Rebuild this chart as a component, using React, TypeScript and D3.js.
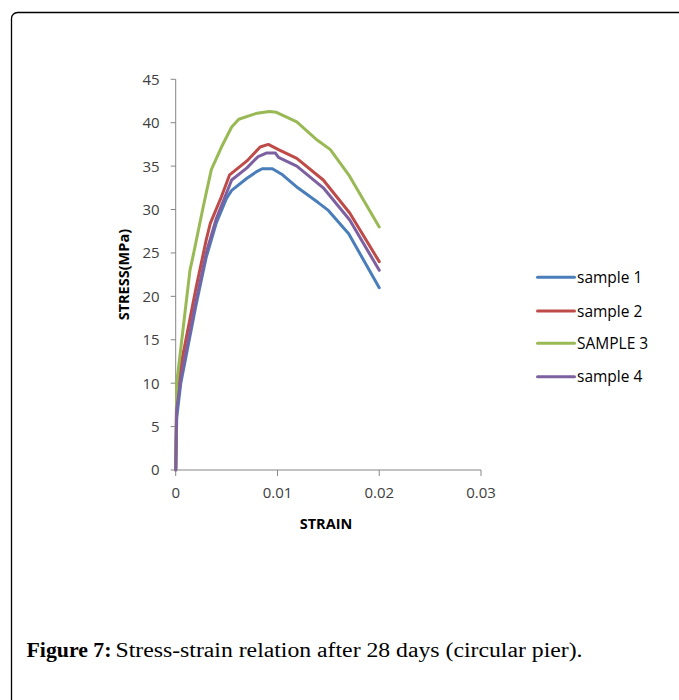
import React from "react";
import * as d3 from "d3";

const yTicks = [0, 5, 10, 15, 20, 25, 30, 35, 40, 45];
const xTicks = [0, 0.01, 0.02, 0.03];
const xTickLabels = ["0", "0.01", "0.02", "0.03"];

const seriesNames = ["sample 1", "sample 2", "SAMPLE 3", "sample 4"];
const seriesColors = ["#4A7EBB", "#BE4B48", "#98B954", "#7D60A0"];

const strain1 = [0, 0.0001, 0.0005, 0.001, 0.002, 0.003, 0.004, 0.005, 0.0055, 0.007, 0.008, 0.0085, 0.0095, 0.0105, 0.012, 0.014, 0.015, 0.017, 0.02];
const stress1 = [0, 6, 10, 13, 19, 24.5, 28.5, 31.3, 32.2, 33.6, 34.4, 34.7, 34.7, 34.0, 32.5, 30.8, 29.9, 27.2, 21];

const strain2 = [0, 0.0001, 0.0005, 0.001, 0.002, 0.003, 0.0034, 0.0045, 0.0053, 0.007, 0.0083, 0.0091, 0.0101, 0.0119, 0.0145, 0.0171, 0.02];
const stress2 = [0, 9, 12, 15, 21, 26.5, 28.4, 31.5, 34.0, 35.6, 37.2, 37.5, 36.9, 35.9, 33.4, 29.6, 24.0];

const strain3 = [0, 0.0001, 0.0006, 0.0014, 0.0017, 0.0027, 0.0035, 0.0045, 0.0055, 0.0062, 0.008, 0.0092, 0.0099, 0.0119, 0.0139, 0.0152, 0.017, 0.02];
const stress3 = [0, 10, 15, 23, 24.6, 30.3, 34.6, 37.2, 39.5, 40.4, 41.1, 41.3, 41.2, 40.1, 38.0, 36.9, 34.0, 28.0];

const strain4 = [0, 0.0001, 0.0005, 0.001, 0.002, 0.003, 0.004, 0.0055, 0.007, 0.0081, 0.0089, 0.0098, 0.0101, 0.0119, 0.0145, 0.0171, 0.02];
const stress4 = [0, 7, 10.5, 13.5, 19.5, 25, 29, 33.4, 34.8, 36.1, 36.5, 36.5, 36.0, 35.0, 32.5, 28.8, 23.0];

const strains = [strain1, strain2, strain3, strain4];
const stresses = [stress1, stress2, stress3, stress4];

export default function App() {
  React.useEffect(() => {
    document.body.style.margin = "0";
  }, []);

  const x = d3.scaleLinear().domain([0, 0.03]).range([175.7, 481]);
  const y = d3.scaleLinear().domain([0, 45]).range([470, 79.3]);
  const line = d3
    .line<[number, number]>()
    .x((d) => x(d[0]))
    .y((d) => y(d[1]));

  const tickFont = "'Open Sans', 'Liberation Sans', sans-serif";
  const axisColor = "#868686";
  const serif = "'Liberation Serif', 'DejaVu Serif', serif";

  return (
    <svg width={679} height={700} style={{ display: "block", position: "absolute", left: 0, top: 0 }}>
      <rect x={0} y={0} width={679} height={700} fill="#fff" />
      <rect x={11.5} y={12.5} width={720} height={740} rx={6} ry={6} fill="none" stroke="#000" strokeWidth={1.3} />

      {/* Y axis */}
      <line x1={x(0)} x2={x(0)} y1={y(45)} y2={y(0)} stroke={axisColor} strokeWidth={1} />
      {yTicks.map((t) => (
        <g key={"y" + t}>
          <line x1={x(0) - 5} x2={x(0)} y1={y(t)} y2={y(t)} stroke={axisColor} strokeWidth={1} />
          <text x={x(0) - 16} y={y(t)} dy="0.36em" textAnchor="end" fontSize={15} fontFamily={tickFont} fill="#404040">
            {t}
          </text>
        </g>
      ))}

      {/* X axis */}
      <line x1={x(0)} x2={x(0.03)} y1={y(0)} y2={y(0)} stroke={axisColor} strokeWidth={1} />
      {xTicks.map((t, i) => (
        <g key={"x" + t}>
          <line x1={x(t)} x2={x(t)} y1={y(0)} y2={y(0) + 6} stroke={axisColor} strokeWidth={1} />
          <text x={x(t)} y={498} textAnchor="middle" fontSize={15} fontFamily={tickFont} fill="#404040">
            {xTickLabels[i]}
          </text>
        </g>
      ))}

      {/* Axis titles */}
      <text
        transform={`translate(124,${(y(0) + y(45)) / 2}) rotate(-90)`}
        textAnchor="middle"
        dy="0.36em"
        fontSize={14.5}
        fontWeight="bold"
        fontFamily={tickFont}
        fill="#000"
      >
        STRESS(MPa)
      </text>
      <text x={326} y={529} textAnchor="middle" fontSize={14.5} fontWeight="bold" fontFamily={tickFont} fill="#000">
        STRAIN
      </text>

      {/* Series */}
      {strains.map((s, i) => (
        <path
          key={"s" + i}
          d={line(s.map((v, j) => [v, stresses[i][j]] as [number, number])) || ""}
          fill="none"
          stroke={seriesColors[i]}
          strokeWidth={3}
          strokeLinejoin="round"
          strokeLinecap="round"
        />
      ))}

      {/* Legend */}
      {seriesNames.map((n, i) => {
        const ly = [277.3, 311, 343.3, 376.7][i];
        return (
          <g key={"l" + i}>
            <line x1={537.5} x2={574.5} y1={ly} y2={ly} stroke={seriesColors[i]} strokeWidth={3} strokeLinecap="round" />
            <text x={577} y={ly} dy="0.36em" fontSize={15.5} fontFamily={tickFont} fill="#000">
              {n}
            </text>
          </g>
        );
      })}

      {/* Caption */}
      <text x={26.5} y={657} fontSize={20} fontWeight="bold" fontFamily={serif} fill="#000" textLength={85} lengthAdjust="spacingAndGlyphs">
        Figure 7:
      </text>
      <text x={115.5} y={657} fontSize={20} fontFamily={serif} fill="#000" textLength={467} lengthAdjust="spacingAndGlyphs">
        Stress-strain relation after 28 days (circular pier).
      </text>
    </svg>
  );
}
